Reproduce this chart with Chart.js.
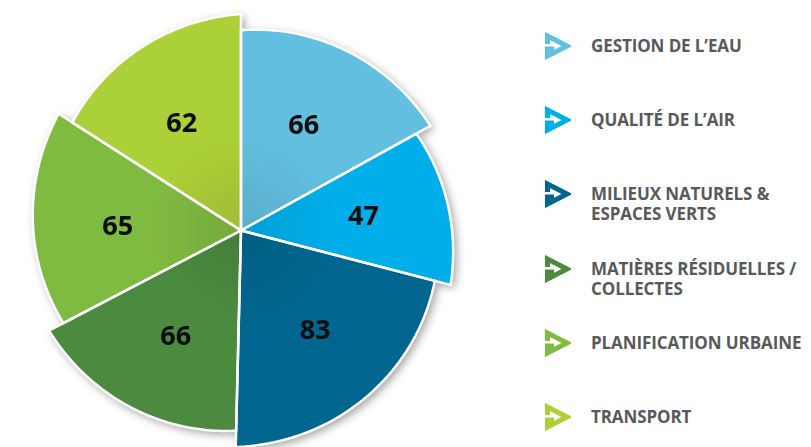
<!DOCTYPE html>
<html lang="fr">
<head>
<meta charset="utf-8">
<title>Répartition par thème</title>
<script src="https://cdn.jsdelivr.net/npm/chart.js@4.4.1/dist/chart.umd.min.js"></script>
<style>
  html, body { margin: 0; padding: 0; background: #fff; overflow: hidden; }
  body { width: 811px; height: 447px; position: relative; font-family: 'Open Sans', sans-serif; }
  #pie-wrap { position: absolute; left: 0; top: 0; width: 482px; height: 447px; }
  #legend { position: absolute; left: 0; top: 0; }
  .item { position: absolute; left: 543px; display: flex; align-items: flex-start; }
  .item svg { width: 28px; height: 28px; margin-top: -4px; flex: none; }
  .item span {
    margin-left: 20px; color: #58595b; font-weight: 700; font-size: 17px;
    line-height: 20px; white-space: nowrap; letter-spacing: -0.1px;
  }
</style>
</head>
<body>
<div id="pie-wrap"><canvas id="pie"></canvas></div>
<div id="legend"></div>
<script>
// data
const categories = [
  'GESTION DE L’EAU',
  'QUALITÉ DE L’AIR',
  ['MILIEUX NATURELS &', 'ESPACES VERTS'],
  ['MATIÈRES RÉSIDUELLES /', 'COLLECTES'],
  'PLANIFICATION URBAINE',
  'TRANSPORT',
];
const values = [66, 47, 83, 66, 65, 62];
const colors = ['#62bfdf', '#00aeea', '#00668f', '#4c8b3f', '#80bb41', '#acd037'];

// each slice grows a little from its first edge to its last (pinwheel look)
const startScale = 0.925;

const pinwheel = {
  id: 'pinwheel',
  beforeDatasetDraw(chart, args) {
    const ctx = chart.ctx;
    const arcs = args.meta.data;

    const slicePath = (arc) => {
      const { x, y, startAngle, endAngle, outerRadius } = arc;
      const steps = 60;
      ctx.beginPath();
      ctx.moveTo(x, y);
      for (let s = 0; s <= steps; s++) {
        const t = s / steps;
        const a = startAngle + (endAngle - startAngle) * t;
        const r = outerRadius * (startScale + (1 - startScale) * t);
        ctx.lineTo(x + Math.cos(a) * r, y + Math.sin(a) * r);
      }
      ctx.closePath();
    };

    // outer drop shadow
    ctx.save();
    ctx.shadowColor = 'rgba(0, 0, 0, 0.4)';
    ctx.shadowBlur = 10;
    ctx.shadowOffsetX = 3;
    ctx.shadowOffsetY = 3;
    arcs.forEach((arc, i) => {
      slicePath(arc);
      ctx.fillStyle = colors[i];
      ctx.fill();
    });
    ctx.restore();

    // fills with a slight darkening near the centre
    arcs.forEach((arc, i) => {
      slicePath(arc);
      ctx.fillStyle = colors[i];
      ctx.fill();
      const g = ctx.createRadialGradient(arc.x, arc.y, 0, arc.x, arc.y, arc.outerRadius * 0.45);
      g.addColorStop(0, 'rgba(0, 0, 0, 0.09)');
      g.addColorStop(1, 'rgba(0, 0, 0, 0)');
      ctx.fillStyle = g;
      ctx.fill();
    });

    // white separators
    ctx.save();
    ctx.strokeStyle = '#ffffff';
    ctx.lineWidth = 2.5;
    ctx.lineJoin = 'miter';
    arcs.forEach((arc) => {
      slicePath(arc);
      ctx.stroke();
    });
    ctx.restore();
    return false;
  },
  afterDatasetsDraw(chart) {
    const ctx = chart.ctx;
    const meta = chart.getDatasetMeta(0);
    ctx.save();
    ctx.font = "bold 27px 'Open Sans', sans-serif";
    ctx.fillStyle = '#0d0d0d';
    ctx.textAlign = 'center';
    ctx.textBaseline = 'middle';
    meta.data.forEach((arc, i) => {
      const mid = (arc.startAngle + arc.endAngle) / 2;
      const r = arc.outerRadius * 0.57;
      ctx.fillText(String(values[i]), arc.x + Math.cos(mid) * r, arc.y + Math.sin(mid) * r + 2);
    });
    ctx.restore();
  },
};

new Chart(document.getElementById('pie'), {
  type: 'pie',
  data: {
    labels: categories,
    datasets: [{
      data: values,
      backgroundColor: colors,
      borderWidth: 0,
    }],
  },
  options: {
    responsive: true,
    maintainAspectRatio: false,
    animation: false,
    rotation: 0,
    layout: { padding: { top: 14, bottom: 0, left: 0, right: 0 } },
    plugins: {
      legend: { display: false },
      tooltip: { enabled: false },
    },
  },
  plugins: [pinwheel],
});

// legend on the right
const legend = document.getElementById('legend');
const rowStep = 74.2;
categories.forEach((cat, i) => {
  const item = document.createElement('div');
  item.className = 'item';
  item.style.top = (36 + rowStep * i) + 'px';
  const lines = Array.isArray(cat) ? cat : [cat];
  item.innerHTML =
    '<svg viewBox="0 0 28 28"><path d="M4.5,12 V4 L24,14 L4.5,24 V17 H11" fill="none" stroke="' +
    colors[i] + '" stroke-width="5" stroke-linejoin="miter"/></svg>' +
    '<span>' + lines.join('<br>') + '</span>';
  legend.appendChild(item);
});
</script>
</body>
</html>
